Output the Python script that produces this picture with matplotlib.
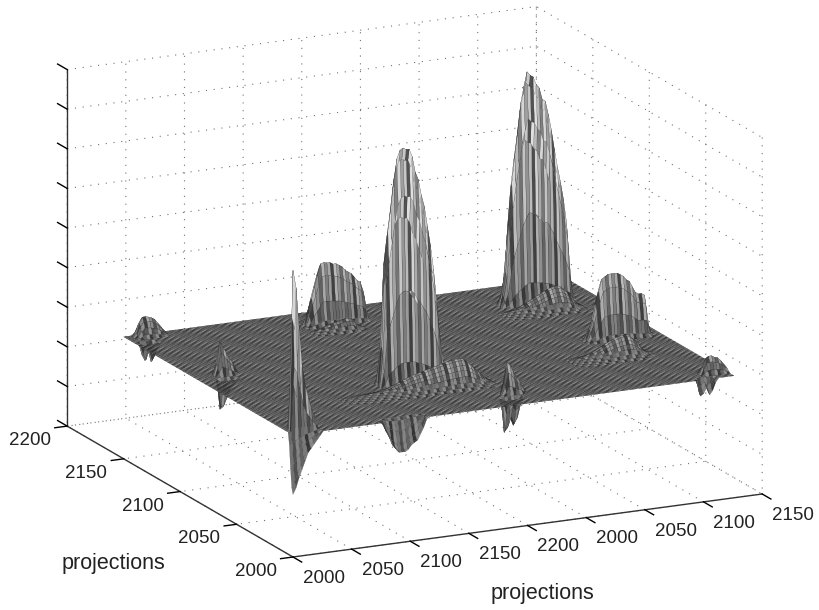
import numpy as np
import matplotlib
matplotlib.use("Agg")
import matplotlib.pyplot as plt
from mpl_toolkits.mplot3d import proj3d

plt.rcParams['font.family'] = ['Liberation Sans', 'DejaVu Sans']

x_ticks = [2000, 2050, 2100, 2150, 2200, 2250, 2300, 2350, 2400]
x_tick_labels = ['2000', '2050', '2100', '2150', '2200', '2000', '2050', '2100', '2150']
y_ticks = [2000, 2050, 2100, 2150, 2200]
y_tick_labels = ['2000', '2050', '2100', '2150', '2200']
z_ticks = [0, 1, 2, 3, 4, 5, 6, 7, 8, 9]
axis_label = 'projections'

n_cols = 146
n_rows = 140
x_first, x_last = 2000, 2376
y_first, y_last = 2000, 2150
plane_level = 3.08

# heights, above the plane, one value per grid column / row
peak_a_cols = [1.0, 3.2, 3.9, 4.5, 5.2, 5.7, 5.9, 5.95, 5.9, 5.9, 5.7, 5.3, 5.1, 4.7, 4.4, 3.9, 3.4, 2.8, 2.0, 1.1, 0.4]
peak_a_rows = [0.1, 0.4, 0.8, 1.0, 0.95, 0.7, 0.4, 0.15]
peak_b_cols = [0.3, 0.85, 2.1, 3.1, 3.8, 4.4, 5.1, 5.5, 5.85, 5.75, 5.7, 5.5, 5.4, 5.1, 5.05, 4.7, 4.3, 3.8, 3.35, 2.95, 2.5, 1.9, 0.6]
peak_b_rows = [0.1, 0.4, 0.8, 1.0, 0.95, 0.7, 0.4, 0.15]
bump_c_cols = [0.05, 0.3, 0.55, 0.95, 1.25, 1.55, 1.6, 1.65, 1.65, 1.65, 1.65, 1.6, 1.55, 1.45, 1.4, 1.25, 1.1, 1.05, 1.05, 1.0, 0.3]
bump_c_rows = [0.1, 0.4, 0.8, 1.0, 0.95, 0.7, 0.4, 0.15]
bump_e_cols = [0.05, 0.35, 0.7, 1.0, 1.3, 1.55, 1.57, 1.55, 1.55, 1.5, 1.5, 1.45, 1.4, 1.3, 1.25, 1.2, 1.1, 1.0, 0.95, 0.7, 0.1]
bump_e_rows = [0.1, 0.4, 0.8, 1.0, 0.95, 0.7, 0.4, 0.15]
spike_d_cols = [4.05, 3.6, 2.6, 1.6, 1.1, 0.8, 0.5, 0.3]
spike_d_rows = [0.4, 1.0, 0.7, 0.3]
dip_d_cols = [-1.5, -1.35, -1.1, -0.9, -0.7, -0.5, -0.4, -0.3, -0.2, -0.1]
dip_d_rows = [1.0, 0.9, 0.6, 0.2]
dip_a_cols = [-0.05, -0.25, -0.4, -0.6, -0.7, -0.8, -0.8, -0.8, -0.75, -0.65, -0.6, -0.55, -0.4, -0.25, -0.05]
dip_a_rows = [1.0, 1.0, 0.8, 0.4, 0.1]
ridge_a_cols = [0.04, 0.05, 0.05, 0.06, 0.06, 0.07, 0.08, 0.09, 0.1, 0.11, 0.12, 0.13, 0.15, 0.17, 0.19, 0.22,
                0.25, 0.28, 0.31, 0.34, 0.37, 0.41, 0.43, 0.45, 0.47, 0.49, 0.51, 0.53, 0.55, 0.57, 0.59, 0.61,
                0.63, 0.65, 0.66, 0.68, 0.69, 0.7, 0.7, 0.68, 0.62, 0.55, 0.47, 0.38, 0.3, 0.22, 0.15, 0.09, 0.05]
ridge_a_rows = [0.1, 0.25, 0.45, 0.65, 0.8, 0.95, 1.0, 0.9, 0.7, 0.5, 0.3, 0.15, 0.05]
ridge_b_cols = [0.05, 0.08, 0.1, 0.13, 0.16, 0.2, 0.24, 0.28, 0.32, 0.36, 0.4, 0.44, 0.48, 0.52, 0.55, 0.58, 0.6,
                0.6, 0.58, 0.52, 0.45, 0.35, 0.25, 0.15, 0.08, 0.04]
ridge_b_rows = [0.1, 0.25, 0.45, 0.65, 0.8, 0.95, 1.0, 0.9, 0.7, 0.5, 0.3, 0.15, 0.05]
ridge_c_cols = [0.05, 0.07, 0.09, 0.12, 0.15, 0.18, 0.21, 0.25, 0.29, 0.33, 0.37, 0.41, 0.45, 0.48, 0.51, 0.53, 0.55,
                0.55, 0.52, 0.45, 0.37, 0.28, 0.18, 0.1, 0.05, 0.03]
ridge_c_rows = [0.1, 0.25, 0.45, 0.65, 0.8, 0.95, 1.0, 0.9, 0.7, 0.5, 0.3, 0.15, 0.05]
ridge_e_cols = [0.05, 0.08, 0.12, 0.15, 0.18, 0.2, 0.22, 0.24, 0.26, 0.28, 0.3, 0.3, 0.28, 0.22, 0.14, 0.07, 0.03]
ridge_e_rows = [0.2, 0.5, 0.8, 1.0, 0.9, 0.6, 0.3, 0.1]
small_tip_cols = [0.1, 0.35, 0.5, 0.5, 0.48, 0.45, 0.4, 0.3, 0.2, 0.1]
small_tip_rows = [0.2, 0.5, 0.8, 1.0, 0.9, 0.6, 0.3]
small_tip_dip_cols = [-0.3, -0.45, -0.2, -0.5, -0.35, -0.1]
small_tip_dip_rows = [0.4, 0.9, 1.0, 0.5]
small_f_cols = [0.3, 0.85, 0.7, 0.55, 0.4, 0.3, 0.15]
small_f_rows = [0.3, 0.7, 1.0, 0.8, 0.4]
small_f_dip_cols = [-0.75, -0.7, -0.5, -0.3, -0.2, -0.1]
small_f_dip_rows = [0.4, 0.9, 1.0, 0.5]
small_g_cols = [0.3, 0.8, 0.7, 0.55, 0.4, 0.3, 0.15]
small_g_rows = [0.3, 0.7, 1.0, 0.8, 0.4]
small_g_dip_cols = [-0.85, -0.75, -0.5, -0.7, -0.55, -0.2]
small_g_dip_rows = [0.4, 0.9, 1.0, 0.5]
small_h_cols = [0.2, 0.4, 0.45, 0.45, 0.4, 0.38, 0.3, 0.2, 0.1]
small_h_rows = [0.3, 0.7, 1.0, 0.8, 0.4]
small_h_dip_cols = [-0.4, -0.35, -0.2, -0.4, -0.3, -0.1]
small_h_dip_rows = [1.0, 0.9, 0.5]

# (first row, first col, row profile, col profile)
features = [
    (39, 46, peak_a_rows, peak_a_cols),
    (112, 115, peak_b_rows, peak_b_cols),
    (58, 121, bump_c_rows, bump_c_cols),
    (119, 53, bump_e_rows, bump_e_cols),
    (4, 2, spike_d_rows, spike_d_cols),
    (0, 0, dip_d_rows, dip_d_cols),
    (0, 30, dip_a_rows, dip_a_cols),
    (24, 29, ridge_a_rows, ridge_a_cols),
    (97, 111, ridge_b_rows, ridge_b_cols),
    (33, 108, ridge_c_rows, ridge_c_cols),
    (109, 52, ridge_e_rows, ridge_e_cols),
    (133, 3, small_tip_rows, small_tip_cols),
    (127, 2, small_tip_dip_rows, small_tip_dip_cols),
    (78, 7, small_f_rows, small_f_cols),
    (73, 6, small_f_dip_rows, small_f_dip_cols),
    (12, 75, small_g_rows, small_g_cols),
    (7, 73, small_g_dip_rows, small_g_dip_cols),
    (4, 137, small_h_rows, small_h_cols),
    (0, 134, small_h_dip_rows, small_h_dip_cols),
]

Z = np.full((n_rows, n_cols), plane_level)
for r0, c0, rows, cols in features:
    Z[r0:r0 + len(rows), c0:c0 + len(cols)] += np.outer(rows, cols)

X, Y = np.meshgrid(np.linspace(x_first, x_last, n_cols), np.linspace(y_first, y_last, n_rows))

# repeating grays give the hatched plane and the streaked peaks of the printed mesh
plane_grays = np.array([0.22, 0.38, 0.55])
peak_grays = np.array([0.72, 0.5, 0.84, 0.62, 0.78, 0.32, 0.88])
rr, cc = np.mgrid[0:n_rows - 1, 0:n_cols - 1]
rise = Z[:-1, :-1] - plane_level
blend = np.clip(np.abs(rise) / 0.35, 0, 1)
peak_shade = np.where(rise < 0, 0.62, 0.72 + 0.28 * np.minimum(np.abs(rise) / 3, 1))
face_gray = (1 - blend) * plane_grays[(cc - rr) % 3] + blend * peak_shade * peak_grays[cc % 7]
face_colors = np.dstack([face_gray, face_gray, face_gray, np.ones_like(face_gray)])

fig = plt.figure(figsize=(8.19, 6.10), dpi=100)
ax = fig.add_axes([0, 0, 1, 1], projection='3d', proj_type='ortho')
ax.view_init(elev=16.2, azim=-115.7)
ax.patch.set_alpha(0)

surf = ax.plot_surface(X, Y, Z, rstride=1, cstride=1, facecolors=face_colors, shade=False,
                       edgecolor='#222222', linewidth=0.12, antialiased=True)
# the 3d axes box is square, the surface reaches past it
surf.set_clip_on(False)

ax.set_xlim(x_ticks[0], x_ticks[-1])
ax.set_ylim(y_ticks[0], y_ticks[-1])
ax.set_zlim(z_ticks[0], z_ticks[-1])
ax.set_xticks(x_ticks)
ax.set_xticklabels(x_tick_labels, fontsize=13.5, color='#222222', ha='left', va='center')
ax.set_yticks(y_ticks)
ax.set_yticklabels(y_tick_labels, fontsize=13.5, color='#222222', ha='right', va='center')
ax.set_zticks(z_ticks)
ax.set_zticklabels([])

for axis in (ax.xaxis, ax.yaxis, ax.zaxis):
    axis.pane.set_visible(False)
    axis.line.set_color('#333333')
    axis.line.set_linewidth(1.0)
    axis._axinfo['grid'].update(color='0.45', linestyle=(0, (1, 6)), linewidth=0.8)
    axis._axinfo['tick']['linewidth'] = {True: 1.0, False: 0.5}
    axis._axinfo['tick']['color'] = '#333333'
ax.xaxis._axinfo['tick'].update(inward_factor=0.0, outward_factor=-0.48)
ax.yaxis._axinfo['tick'].update(inward_factor=0.0, outward_factor=-0.33)
ax.zaxis._axinfo['tick'].update(inward_factor=0.0, outward_factor=0.53)
# z ticks run along the y direction in the reference
ax.zaxis._get_tickdir = lambda pos: 1
ax.tick_params(axis='x', pad=2)
ax.tick_params(axis='y', pad=0)

# fit the box to where its corners sit in the reference (pixels from top left)
def corner_px(x, y, z):
    xp, yp, _ = proj3d.proj_transform(x, y, z, ax.get_proj())
    return ax.transData.transform((xp, yp))

ax.set_box_aspect((1, 1, 0.713), zoom=1)
ax.apply_aspect()
span = (corner_px(x_ticks[-1], y_ticks[0], 0) - corner_px(x_ticks[0], y_ticks[-1], 0))[0]
ax.set_box_aspect((1, 1, 0.713), zoom=695 / span)
ax.apply_aspect()
front = corner_px(x_ticks[0], y_ticks[0], 0)
ax.set_position([(293 - front[0]) / 819, ((610 - 557) - front[1]) / 610, 1, 1])

fig.text(113 / 819, 1 - 563 / 610, axis_label, fontsize=15.5, color='#222222', ha='center', va='center')
fig.text(542 / 819, 1 - 593 / 610, axis_label, fontsize=15.5, color='#222222', ha='center', va='center')

fig.savefig('out.png', dpi=100)
